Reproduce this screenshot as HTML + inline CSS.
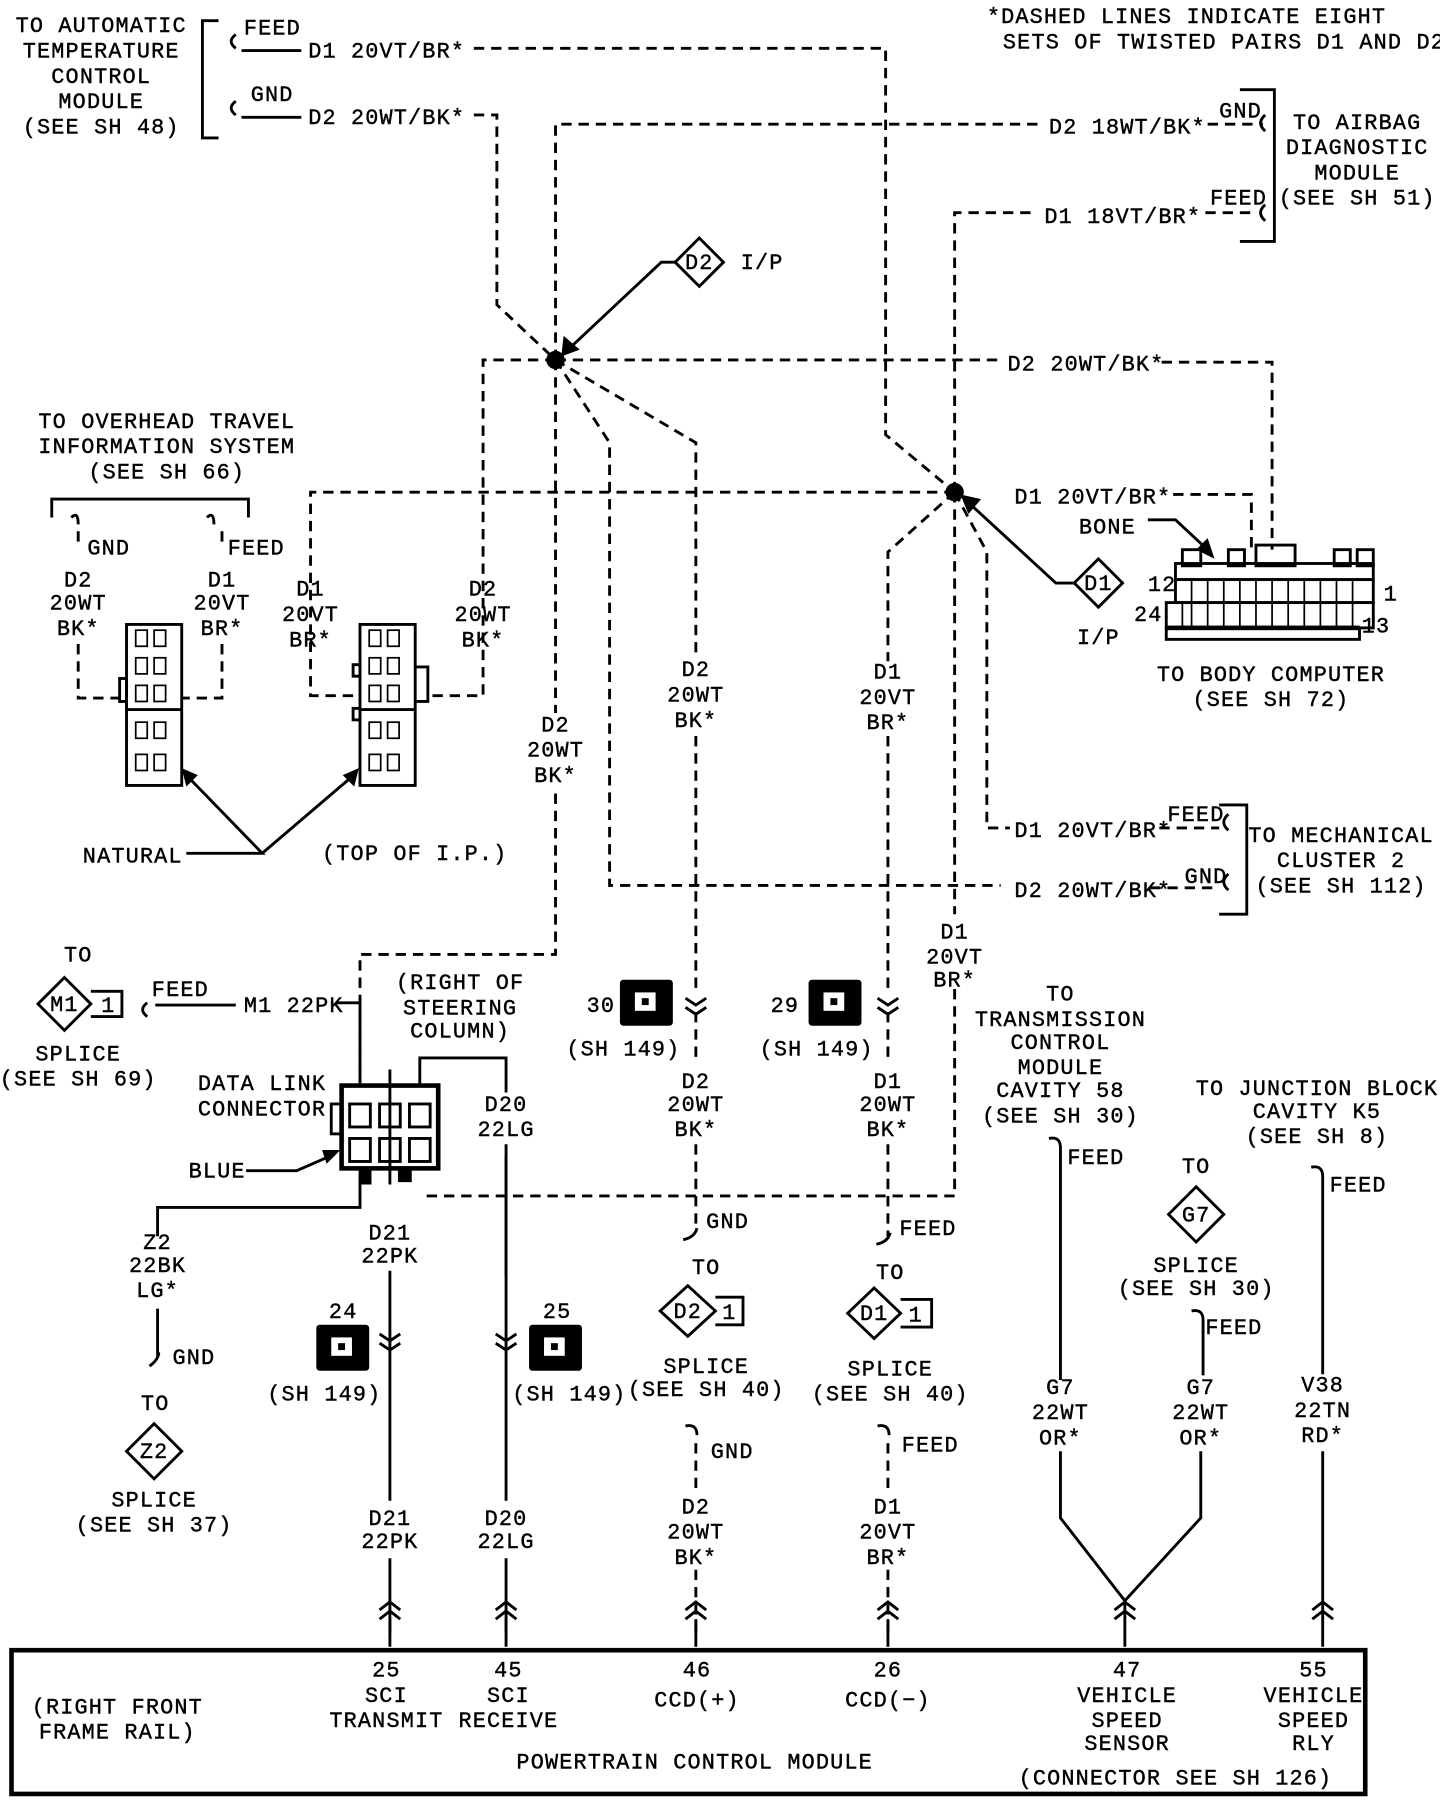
<!DOCTYPE html>
<html><head><meta charset="utf-8"><style>
html,body{margin:0;padding:0;background:#fff}
svg{display:block}
text{font-family:"Liberation Mono",monospace;font-size:19px;letter-spacing:1px;fill:#000;stroke:#000;stroke-width:0.35}
.c{text-anchor:middle}
.d{fill:none;stroke:#000;stroke-width:2.5;stroke-dasharray:9 6}
.s{fill:none;stroke:#000;stroke-width:2.5}
.t{fill:none;stroke:#000;stroke-width:4}
</style></head><body>
<svg width="1440" height="1802" viewBox="0 0 1252 1567" preserveAspectRatio="none" xmlns="http://www.w3.org/2000/svg">
<text class="c" x="88" y="28">TO AUTOMATIC</text>
<text class="c" x="88" y="50">TEMPERATURE</text>
<text class="c" x="88" y="72">CONTROL</text>
<text class="c" x="88" y="94">MODULE</text>
<text class="c" x="88" y="116">(SEE SH 48)</text>
<path class="s" d="M190,18 H176 V120 H190"/>
<path class="s" d="M205,30 q-8,6 0,12 M205,88 q-8,6 0,12"/>
<text x="212" y="30">FEED</text><text x="218" y="88">GND</text>
<path class="s" d="M210,44 H262 M210,102 H262"/>
<text x="268" y="50">D1 20VT/BR*</text>
<text x="268" y="108">D2 20WT/BK*</text>
<path class="d" d="M412,42 H770 V378 L830,428"/>
<path class="d" d="M412,100 H432 V265 L483,313"/>
<text x="858" y="20">*DASHED LINES INDICATE EIGHT</text>
<text x="872" y="42">SETS OF TWISTED PAIRS D1 AND D2</text>
<path class="d" d="M483,313 V108 H905"/>
<text x="912" y="116">D2 18WT/BK*</text>
<path class="d" d="M1050,108 H1098"/>
<text x="1060" y="102">GND</text>
<path class="d" d="M830,428 V185 H900"/>
<text x="908" y="194">D1 18VT/BR*</text>
<path class="d" d="M1048,185 H1090"/>
<text x="1052" y="178">FEED</text>
<path class="s" d="M1078,78 H1108 V210 H1078"/>
<path class="s" d="M1100,100 q-8,7 0,14 M1100,178 q-8,7 0,14"/>
<text class="c" x="1180" y="112">TO AIRBAG</text>
<text class="c" x="1180" y="134">DIAGNOSTIC</text>
<text class="c" x="1180" y="156">MODULE</text>
<text class="c" x="1180" y="178">(SEE SH 51)</text>
<circle cx="483" cy="313" r="8"/>
<circle cx="830" cy="428" r="8"/>
<path class="s" d="M587,228 L608,207 L629,228 L608,249 Z"/>
<text class="c" x="608" y="234">D2</text><text x="644" y="234">I/P</text>
<path class="s" d="M587,228 H575 L495,303"/><path d="M488,310 L490,292 L504,304 Z"/>
<path class="s" d="M934,507 L955,486 L976,507 L955,528 Z"/>
<text class="c" x="955" y="513">D1</text><text class="c" x="955" y="560">I/P</text>
<path class="s" d="M934,507 H918 L842,437"/><path d="M835,430 L853,434 L842,447 Z"/>
<path class="d" d="M483,313 H420 V605 H372"/>
<path class="d" d="M483,313 H870"/>
<text x="876" y="322">D2 20WT/BK*</text>
<path class="d" d="M1010,315 H1106 V478"/>
<path class="d" d="M483,313 L530,385 V770 H870"/>
<path class="d" d="M483,313 L605,385 V570 M605,640 V860 M605,880 V925 M605,995 V1070"/>
<path class="d" d="M483,313 V620 M483,690 V830 H313 V940"/>
<text class="c" x="483" y="636">D2</text><text class="c" x="483" y="658">20WT</text><text class="c" x="483" y="680">BK*</text>
<text class="c" x="605" y="588">D2</text><text class="c" x="605" y="610">20WT</text><text class="c" x="605" y="632">BK*</text>
<path class="d" d="M830,428 H270 V605 H310"/>
<text x="882" y="438">D1 20VT/BR*</text>
<path class="d" d="M1020,430 H1088 V478"/>
<path class="d" d="M830,428 L772,480 V575 M772,640 V860 M772,880 V925 M772,995 V1075"/>
<text class="c" x="772" y="590">D1</text><text class="c" x="772" y="612">20VT</text><text class="c" x="772" y="634">BR*</text>
<path class="d" d="M830,428 L858,480 V720 H878"/>
<text x="882" y="728">D1 20VT/BR*</text><text x="1015" y="714">FEED</text>
<text x="882" y="780">D2 20WT/BK*</text><text x="1030" y="768">GND</text>
<path class="d" d="M1008,720 H1060 M1000,772 H1060"/>
<path class="s" d="M1068,708 q-8,7 0,14 M1068,760 q-8,7 0,14"/>
<path class="s" d="M1060,700 H1084 V795 H1060"/>
<text class="c" x="1166" y="732">TO MECHANICAL</text>
<text class="c" x="1166" y="754">CLUSTER 2</text>
<text class="c" x="1166" y="776">(SEE SH 112)</text>
<path class="d" d="M830,428 V795 M830,860 V1040 H370"/>
<text class="c" x="830" y="816">D1</text><text class="c" x="830" y="838">20VT</text><text class="c" x="830" y="858">BR*</text>
<text x="938" y="464">BONE</text>
<path class="s" d="M998,452 H1022 L1052,480"/><path d="M1056,486 L1040,478 L1050,468 Z"/>
<g class="s">
<rect x="1028" y="478" width="16" height="14"/><rect x="1068" y="478" width="14" height="14"/>
<rect x="1092" y="474" width="34" height="18"/><rect x="1160" y="478" width="14" height="14"/><rect x="1180" y="478" width="14" height="14"/>
<rect x="1022" y="490" width="172" height="14"/>
<rect x="1022" y="504" width="172" height="20"/>
<rect x="1014" y="524" width="180" height="22"/>
<rect x="1014" y="546" width="168" height="10"/>
</g>
<path stroke="#000" stroke-width="1.5" d="M1036,504 V546 M1050,504 V546 M1064,504 V546 M1078,504 V546 M1092,504 V546 M1106,504 V546 M1120,504 V546 M1134,504 V546 M1148,504 V546 M1162,504 V546 M1176,504 V546 M1028,524 V546"/>
<rect x="1014" y="544" width="168" height="4"/>
<text x="998" y="514">12</text><text x="986" y="540">24</text><text x="1203" y="522">1</text><text x="1184" y="550">13</text>
<text class="c" x="1105" y="592">TO BODY COMPUTER</text><text class="c" x="1105" y="614">(SEE SH 72)</text>
<text class="c" x="145" y="372">TO OVERHEAD TRAVEL</text>
<text class="c" x="145" y="394">INFORMATION SYSTEM</text>
<text class="c" x="145" y="416">(SEE SH 66)</text>
<path class="s" d="M45,450 V434 H216 V450 M62,450 q6,-6 6,6 M180,450 q6,-6 6,6"/>
<text x="76" y="482">GND</text><text x="198" y="482">FEED</text>
<path class="d" d="M68,462 V475 M193,462 V475"/>
<text class="c" x="68" y="510">D2</text><text class="c" x="68" y="530">20WT</text><text class="c" x="68" y="552">BK*</text>
<text class="c" x="193" y="510">D1</text><text class="c" x="193" y="530">20VT</text><text class="c" x="193" y="552">BR*</text>
<path class="d" d="M68,560 V607 H105 M193,560 V607 H158"/>
<text class="c" x="270" y="518">D1</text><text class="c" x="270" y="540">20VT</text><text class="c" x="270" y="562">BR*</text>
<text class="c" x="420" y="518">D2</text><text class="c" x="420" y="540">20WT</text><text class="c" x="420" y="562">BK*</text>
<g class="s">
<rect x="110" y="543" width="48" height="140"/><rect x="104" y="590" width="6" height="20"/>
<rect x="313" y="543" width="48" height="140"/><rect x="307" y="578" width="6" height="10"/><rect x="307" y="616" width="6" height="10"/><path d="M361,580 H372 V610 H361"/>
</g>
<path class="s" stroke-width="1.5" d="M110,617 H158 M313,617 H361"/>
<g fill="none" stroke="#000" stroke-width="1.5">
<rect x="118" y="548" width="10" height="14"/><rect x="134" y="548" width="10" height="14"/><rect x="118" y="572" width="10" height="14"/><rect x="134" y="572" width="10" height="14"/><rect x="118" y="596" width="10" height="14"/><rect x="134" y="596" width="10" height="14"/><rect x="118" y="628" width="10" height="14"/><rect x="134" y="628" width="10" height="14"/><rect x="118" y="656" width="10" height="14"/><rect x="134" y="656" width="10" height="14"/>
<rect x="321" y="548" width="10" height="14"/><rect x="337" y="548" width="10" height="14"/><rect x="321" y="572" width="10" height="14"/><rect x="337" y="572" width="10" height="14"/><rect x="321" y="596" width="10" height="14"/><rect x="337" y="596" width="10" height="14"/><rect x="321" y="628" width="10" height="14"/><rect x="337" y="628" width="10" height="14"/><rect x="321" y="656" width="10" height="14"/><rect x="337" y="656" width="10" height="14"/>
</g>
<text x="72" y="750">NATURAL</text><text x="280" y="748">(TOP OF I.P.)</text>
<path class="s" d="M162,742 H228 L160,672 M228,742 L310,672"/>
<path d="M158,668 L162,684 L172,674 Z M312,668 L298,674 L308,684 Z"/>
<text class="c" x="68" y="836">TO</text>
<path class="s" d="M33,873 L56,850 L79,873 L56,896 Z M79,862 H106 V884 H79"/>
<text class="c" x="56" y="879">M1</text><text x="88" y="880">1</text>
<text class="c" x="68" y="922">SPLICE</text><text class="c" x="68" y="944">(SEE SH 69)</text>
<path class="s" d="M128,872 q-8,6 0,12 M135,874 H205 M292,872 H313"/>
<text x="132" y="866">FEED</text><text x="212" y="880">M1 22PK</text>
<text class="c" x="400" y="860">(RIGHT OF</text><text class="c" x="400" y="882">STEERING</text><text class="c" x="400" y="902">COLUMN)</text>
<text x="172" y="948">DATA LINK</text><text x="172" y="970">CONNECTOR</text><text x="164" y="1024">BLUE</text>
<path class="s" d="M214,1018 H258 L290,1004"/><path d="M296,1000 L280,1000 L284,1012 Z"/>
<path class="s" d="M313,872 V945 M365,945 V920 H440 V950 M440,995 V1110"/>
<g class="t"><rect x="297" y="944" width="84" height="72"/></g>
<g class="s"><rect x="288" y="960" width="9" height="26"/><rect x="304" y="960" width="18" height="20"/><rect x="330" y="960" width="18" height="20"/><rect x="356" y="960" width="18" height="20"/><rect x="304" y="990" width="18" height="20"/><rect x="330" y="990" width="18" height="20"/><rect x="356" y="990" width="18" height="20"/></g>
<path d="M313,1016 h10 v14 h-10 Z M346,1016 h12 v12 h-12 Z"/>
<path class="s" d="M339,930 V1030 M313,1016 V1050 H137 V1075"/>
<text class="c" x="440" y="966">D20</text><text class="c" x="440" y="988">22LG</text>
<text class="c" x="339" y="1078">D21</text><text class="c" x="339" y="1098">22PK</text>
<path class="s" d="M339,1105 V1305 M339,1355 V1420 M440,1005 V1305 M440,1355 V1420"/>
<text class="c" x="137" y="1086">Z2</text><text class="c" x="137" y="1106">22BK</text><text class="c" x="137" y="1128">LG*</text>
<path class="s" d="M137,1138 V1180 M130,1188 q8,-6 8,-12"/><text x="150" y="1186">GND</text>
<text class="c" x="135" y="1226">TO</text>
<path class="s" d="M110,1262 L134,1238 L158,1262 L134,1286 Z"/><text class="c" x="134" y="1268">Z2</text>
<text class="c" x="134" y="1310">SPLICE</text><text class="c" x="134" y="1332">(SEE SH 37)</text>
<g>
<rect x="275" y="1152" width="46" height="40" rx="3"/><rect x="288" y="1163" width="18" height="16" fill="#fff"/><rect x="294" y="1168" width="6" height="6"/>
<rect x="460" y="1152" width="46" height="40" rx="3"/><rect x="473" y="1163" width="18" height="16" fill="#fff"/><rect x="479" y="1168" width="6" height="6"/>
<rect x="539" y="852" width="46" height="40" rx="3"/><rect x="552" y="863" width="18" height="16" fill="#fff"/><rect x="558" y="868" width="6" height="6"/>
<rect x="703" y="852" width="46" height="40" rx="3"/><rect x="716" y="863" width="18" height="16" fill="#fff"/><rect x="722" y="868" width="6" height="6"/>
</g>
<text x="286" y="1146">24</text><text x="472" y="1146">25</text>
<text x="510" y="880">30</text><text x="670" y="880">29</text>
<text class="c" x="282" y="1218">(SH 149)</text><text class="c" x="495" y="1218">(SH 149)</text>
<text class="c" x="542" y="918">(SH 149)</text><text class="c" x="710" y="918">(SH 149)</text>
<path class="s" d="M330,1160 l9,6 l9,-6 M330,1168 l9,6 l9,-6 M431,1160 l9,6 l9,-6 M431,1168 l9,6 l9,-6 M596,868 l9,6 l9,-6 M596,876 l9,6 l9,-6 M763,868 l9,6 l9,-6 M763,876 l9,6 l9,-6"/>
<text class="c" x="605" y="946">D2</text><text class="c" x="605" y="966">20WT</text><text class="c" x="605" y="988">BK*</text>
<text class="c" x="772" y="946">D1</text><text class="c" x="772" y="966">20WT</text><text class="c" x="772" y="988">BK*</text>
<text x="614" y="1068">GND</text><text x="782" y="1074">FEED</text>
<path class="s" d="M594,1078 q10,-2 12,-10 M762,1082 q10,-2 12,-10"/>
<text class="c" x="614" y="1108">TO</text><text class="c" x="774" y="1112">TO</text>
<path class="s" d="M574,1140 L598,1118 L622,1140 L598,1162 Z M622,1128 H646 V1152 H622"/><text class="c" x="598" y="1146">D2</text><text x="628" y="1147">1</text>
<path class="s" d="M737,1142 L760,1120 L783,1142 L760,1164 Z M783,1130 H810 V1154 H783"/><text class="c" x="760" y="1148">D1</text><text x="790" y="1149">1</text>
<text class="c" x="614" y="1194">SPLICE</text><text class="c" x="614" y="1214">(SEE SH 40)</text>
<text class="c" x="774" y="1196">SPLICE</text><text class="c" x="774" y="1218">(SEE SH 40)</text>
<path class="s" d="M596,1240 q10,-2 10,8 M763,1240 q10,-2 10,8"/>
<text x="618" y="1268">GND</text><text x="784" y="1262">FEED</text>
<path class="d" d="M605,1255 V1295 M772,1255 V1295 M605,1365 V1420 M772,1365 V1420"/>
<text class="c" x="605" y="1316">D2</text><text class="c" x="605" y="1338">20WT</text><text class="c" x="605" y="1360">BK*</text>
<text class="c" x="772" y="1316">D1</text><text class="c" x="772" y="1338">20VT</text><text class="c" x="772" y="1360">BR*</text>
<text class="c" x="339" y="1326">D21</text><text class="c" x="339" y="1346">22PK</text>
<text class="c" x="440" y="1326">D20</text><text class="c" x="440" y="1346">22LG</text>
<text class="c" x="922" y="870">TO</text><text class="c" x="922" y="892">TRANSMISSION</text><text class="c" x="922" y="912">CONTROL</text><text class="c" x="922" y="934">MODULE</text><text class="c" x="922" y="954">CAVITY 58</text><text class="c" x="922" y="976">(SEE SH 30)</text>
<path class="s" d="M912,990 q10,-2 10,8 V1200 M1140,1015 q10,-2 10,8 V1195 M1036,1140 q10,-2 10,8 V1196"/>
<text x="928" y="1012">FEED</text><text x="1156" y="1036">FEED</text><text x="1048" y="1160">FEED</text>
<text class="c" x="1145" y="952">TO JUNCTION BLOCK</text><text class="c" x="1145" y="972">CAVITY K5</text><text class="c" x="1145" y="994">(SEE SH 8)</text>
<text class="c" x="1040" y="1020">TO</text>
<path class="s" d="M1016,1056 L1040,1032 L1064,1056 L1040,1080 Z"/><text class="c" x="1040" y="1062">G7</text>
<text class="c" x="1040" y="1106">SPLICE</text><text class="c" x="1040" y="1126">(SEE SH 30)</text>
<text class="c" x="922" y="1212">G7</text><text class="c" x="922" y="1234">22WT</text><text class="c" x="922" y="1256">OR*</text>
<text class="c" x="1044" y="1212">G7</text><text class="c" x="1044" y="1234">22WT</text><text class="c" x="1044" y="1256">OR*</text>
<text class="c" x="1150" y="1210">V38</text><text class="c" x="1150" y="1232">22TN</text><text class="c" x="1150" y="1254">RD*</text>
<path class="s" d="M922,1262 V1320 L978,1392 L1044,1320 V1262 M978,1392 V1432 M1150,1262 V1432"/>
<path class="s" d="M330,1400 l9,-7 l9,7 M330,1408 l9,-7 l9,7 M431,1400 l9,-7 l9,7 M431,1408 l9,-7 l9,7 M596,1400 l9,-7 l9,7 M596,1408 l9,-7 l9,7 M763,1400 l9,-7 l9,7 M763,1408 l9,-7 l9,7 M969,1400 l9,-7 l9,7 M969,1408 l9,-7 l9,7 M1141,1400 l9,-7 l9,7 M1141,1408 l9,-7 l9,7"/>
<path class="s" d="M339,1408 V1432 M440,1408 V1432 M605,1408 V1432 M772,1408 V1432"/>
<rect x="10" y="1435" width="1177" height="125" fill="none" stroke="#000" stroke-width="4"/>
<text class="c" x="336" y="1458">25</text><text class="c" x="336" y="1480">SCI</text><text class="c" x="336" y="1502">TRANSMIT</text>
<text class="c" x="442" y="1458">45</text><text class="c" x="442" y="1480">SCI</text><text class="c" x="442" y="1502">RECEIVE</text>
<text class="c" x="606" y="1458">46</text><text class="c" x="606" y="1484">CCD(+)</text>
<text class="c" x="772" y="1458">26</text><text class="c" x="772" y="1484">CCD(−)</text>
<text class="c" x="980" y="1458">47</text><text class="c" x="980" y="1480">VEHICLE</text><text class="c" x="980" y="1502">SPEED</text><text class="c" x="980" y="1522">SENSOR</text>
<text class="c" x="1142" y="1458">55</text><text class="c" x="1142" y="1480">VEHICLE</text><text class="c" x="1142" y="1502">SPEED</text><text class="c" x="1142" y="1522">RLY</text>
<text class="c" x="102" y="1490">(RIGHT FRONT</text><text class="c" x="102" y="1512">FRAME RAIL)</text>
<text class="c" x="604" y="1538">POWERTRAIN CONTROL MODULE</text>
<text class="c" x="1022" y="1552">(CONNECTOR SEE SH 126)</text>
</svg>
</body></html>
